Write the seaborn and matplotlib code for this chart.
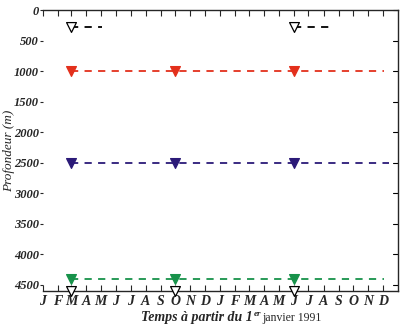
import matplotlib
matplotlib.use("Agg")
import matplotlib.pyplot as plt
import seaborn as sns
import pandas as pd

# Mooring deployments, time in days since 1 Jan 1991
month_labels = list("JFMAMJJASOND") * 2
month_starts = [0, 31, 59, 90, 120, 151, 181, 212, 243, 273, 304, 334,
                365, 396, 425, 456, 486, 517, 547, 578, 609, 639, 670, 700]
deploy_days = [59, 273, 517]

# instrument depths (m) and record segments (start day, end day)
inst_names = ["250 m", "1000 m", "2500 m", "4400 m"]
inst_depths = [270, 1000, 2500, 4400]
inst_colors = ["black", "#e3301c", "#2b1a78", "#17924a"]
inst_filled = [False, True, True, True]
inst_deploys = [[59, 517], [59, 273, 517], [59, 273, 517], [59, 273, 517]]
inst_segments = [[(59, 122), (517, 590)], [(59, 703)], [(59, 712)], [(59, 703)]]

bottom_depth = 4600


def main():
    sns.set_style("ticks")
    plt.rcParams["font.family"] = ["Liberation Serif", "DejaVu Serif"]

    fig = plt.figure(figsize=(4.03, 3.25), dpi=100)
    ax = fig.add_axes([0.1055, 0.1046, 0.882, 0.8646])

    # dashed record lines
    for depth, color, segs in zip(inst_depths, inst_colors, inst_segments):
        for start, end in segs:
            seg = pd.DataFrame({"day": [start, end], "depth": [depth, depth]})
            sns.lineplot(data=seg, x="day", y="depth", ax=ax, color=color,
                         linestyle=(0, (4, 3.5)), linewidth=1.3)

    # instrument markers
    for depth, color, filled, days in zip(inst_depths, inst_colors, inst_filled, inst_deploys):
        pts = pd.DataFrame({"day": days, "depth": [depth] * len(days)})
        sns.scatterplot(data=pts, x="day", y="depth", ax=ax, marker="v", s=50,
                        color=color if filled else "white",
                        edgecolor=color, linewidth=0.9, zorder=5)

    # anchors on the bottom
    anc = pd.DataFrame({"day": deploy_days, "depth": [bottom_depth] * len(deploy_days)})
    sns.scatterplot(data=anc, x="day", y="depth", ax=ax, marker="v", s=50,
                    color="white", edgecolor="black", linewidth=0.9,
                    zorder=6, clip_on=False)

    ax.set_xlim(0, 731)
    ax.set_ylim(bottom_depth, 0)
    ax.set_xticks(month_starts)
    ax.set_xticklabels(month_labels, fontsize=10, fontstyle="italic", fontweight="bold")
    ax.set_yticks(range(0, 5000, 500))
    ax.set_yticklabels([str(v) for v in range(0, 5000, 500)], fontsize=9,
                       fontstyle="italic", fontweight="bold")
    ax.tick_params(axis="x", direction="in", top=True, length=4, width=0.8, pad=3)
    ax.tick_params(axis="y", direction="out", right=False, length=2.5, width=0.8, pad=0)
    ax.spines["left"].set_visible(False)
    for s in ["top", "bottom", "right"]:
        ax.spines[s].set_linewidth(1.0)
    ax.set_xlabel("")
    ax.set_ylabel("Profondeur (m)", fontsize=9.5, fontstyle="italic")
    ax.yaxis.set_label_coords(-0.076, 0.5)

    # right-side inward ticks
    for v in range(0, 5000, 500):
        ax.plot([1, 0.985], [v, v], transform=ax.get_yaxis_transform(),
                color="black", linewidth=0.8, clip_on=False)

    fig.text(253 / 403, 1 - 318 / 325, "Temps à partir du 1", ha="right", va="center",
             fontsize=10, fontstyle="italic", fontweight="bold")
    fig.text(253.5 / 403, 1 - 314 / 325, "er", ha="left", va="center",
             fontsize=6.5, fontstyle="italic", fontweight="bold")
    fig.text(262 / 403, 1 - 318 / 325, "janvier 1991", ha="left", va="center",
             fontsize=8.5)

    fig.savefig("out.png", dpi=100)


if __name__ == "__main__":
    main()
